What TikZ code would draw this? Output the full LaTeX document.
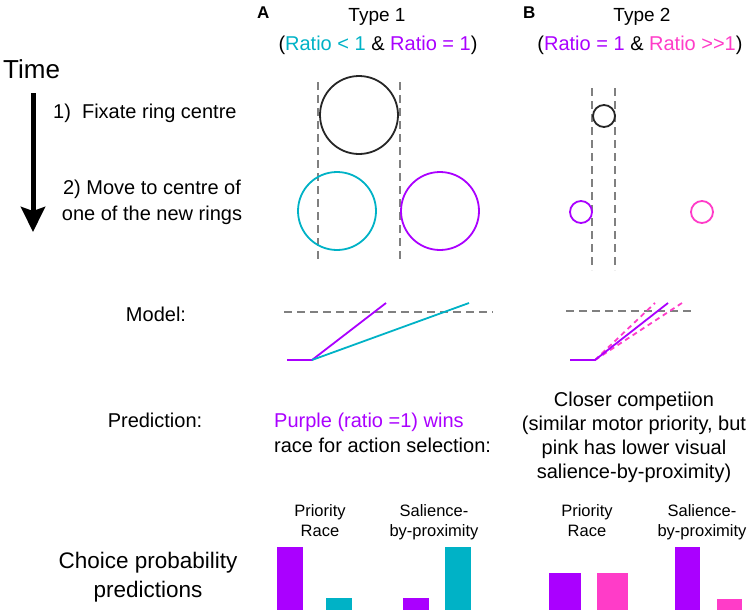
\documentclass[tikz,border=0pt]{standalone}
\usepackage{fontspec}
\setmainfont{Liberation Sans}
\usetikzlibrary{arrows.meta,positioning}
\definecolor{ringPurple}{RGB}{170,0,255}
\definecolor{ringCyan}{RGB}{0,178,198}
\definecolor{ringPink}{RGB}{255,60,200}
\definecolor{guideGray}{RGB}{128,128,128}
\tikzset{
  txt/.style={inner sep=0pt,anchor=base,align=center,
              font=\fontsize{20}{24.5}\selectfont},
  barTxt/.style={inner sep=0pt,anchor=base,align=center,
                 font=\fontsize{16.5}{19.5}\selectfont},
  ringA/.style={circle,draw=#1,line width=1.8pt,inner sep=0pt,minimum size=78pt},
  ringB/.style={circle,draw=#1,line width=1.8pt,inner sep=0pt,minimum size=22pt},
  guide/.style={guideGray,line width=1.8pt,dash pattern=on 8pt off 5pt},
  model/.style={#1,line width=1.8pt},
  altModel/.style={ringPink,line width=1.8pt,dash pattern=on 5pt off 4pt},
  timeArrow/.style={-{Stealth[length=25pt,width=24pt,inset=4pt]},line width=5pt},
}

\begin{document}
\begin{tikzpicture}[x=1pt,y=-1pt]
  \useasboundingbox (0,0) rectangle (748,611);
  % headers
  \node[txt,anchor=base west,font=\fontsize{17}{20}\selectfont\bfseries](labA) at (257,18){A};
  \node[txt,anchor=base west,font=\fontsize{17}{20}\selectfont\bfseries](labB) at (523,18){B};
  \node[txt,font=\fontsize{19}{22}\selectfont](type1) at (377,21){Type 1};
  \node[txt](ratio1) at (378,50){(\textcolor{ringCyan}{Ratio < 1} \& \textcolor{ringPurple}{Ratio = 1})};
  \node[txt,font=\fontsize{19}{22}\selectfont](type2) at (642,21){Type 2};
  \node[txt](ratio2) at (640,50){(\textcolor{ringPurple}{Ratio = 1} \& \textcolor{ringPink}{Ratio >{}>1})};
  % time axis
  \node[txt,anchor=base west,font=\fontsize{26}{30}\selectfont](time) at (3,78){Time};
  \coordinate (timeEnd) at (33,232);
  \draw[timeArrow] ([yshift=-15pt]time.south -| timeEnd) -- (timeEnd);
  \node[txt,anchor=base west](fixate) at (53,118){1)\ \ Fixate ring centre};
  \node[txt,font=\fontsize{20}{26}\selectfont](move) at (152,220){2) Move to centre of\\one of the new rings};
  % type 1 rings
  \draw[guide] (318,82) -- (318,262);
  \draw[guide] (400,82) -- (400,262);
  \node[ringA=black!85](centre1) at (359,115){};
  \node[ringA=ringCyan](cyanRing) at (337,211){};
  \node[ringA=ringPurple](purpRing1) at (440,211){};
  % type 2 rings
  \draw[guide] (592,88) -- (592,270);
  \draw[guide] (615,88) -- (615,270);
  \node[ringB=black!85](centre2) at (604,116){};
  \node[ringB=ringPurple](purpRing2) at (581,212){};
  \node[ringB=ringPink](pinkRing) at (702,212){};
  % model
  \node[txt](model) at (156,321){Model:};
  \coordinate (kneeA) at (312,360);
  \coordinate (kneeB) at (595,360);
  \draw[guide] (284,312) -- (493,312);
  \draw[model=ringPurple] (287,360) -- (kneeA) -- (386,303);
  \draw[model=ringCyan] (kneeA) -- (469,303);
  \draw[guide] (566,311) -- (694,311);
  \draw[altModel] (kneeB) -- (655,303);
  \draw[altModel] (kneeB) -- (682,303);
  \draw[model=ringPurple] (570,360) -- (kneeB) -- (668,303);
  % prediction
  \node[txt](prediction) at (155,427){Prediction:};
  \node[txt,anchor=base west,align=left,font=\fontsize{20}{25}\selectfont](win1) at (274,452){\textcolor{ringPurple}{Purple (ratio =1) wins}\\race for action selection:};
  \node[txt,font=\fontsize{20}{24}\selectfont](win2) at (634,478){Closer competiion\\(similar motor priority, but\\pink has lower visual\\salience-by-proximity)};
  % choice bars
  \node[txt,font=\fontsize{22.5}{29}\selectfont](choice) at (148,597){Choice probability\\predictions};
  \node[barTxt](prio1) at (320,536){Priority\\Race};
  \node[barTxt](sal1) at (434,536){Salience-\\by-proximity};
  \node[barTxt](prio2) at (587,536){Priority\\Race};
  \node[barTxt](sal2) at (702,536){Salience-\\by-proximity};
  \foreach \xa/\xb/\top/\col in {277/303/547/ringPurple,326/352/598/ringCyan,
      403/429/598/ringPurple,445/471/547/ringCyan,549/581/573/ringPurple,
      597/628/573/ringPink,675/700/547/ringPurple,717/742/599/ringPink}{
    \fill[\col] (\xa,\top) rectangle (\xb,610);}
\end{tikzpicture}
\end{document}
